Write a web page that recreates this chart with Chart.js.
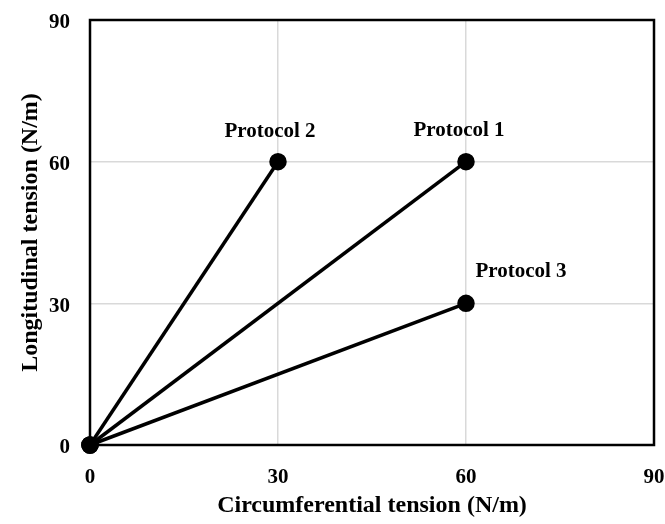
<!DOCTYPE html>
<html>
<head>
<meta charset="utf-8">
<script src="https://cdn.jsdelivr.net/npm/chart.js@4/dist/chart.umd.min.js"></script>
<style>
  html, body { margin: 0; padding: 0; background: #fff; }
  #wrap { width: 665px; height: 524px; }
</style>
</head>
<body>
<div id="wrap"><canvas id="c" width="665" height="524"></canvas></div>
<script>
// Loading paths: circumferential vs longitudinal tension (N/m)
const protocolNames = ['Protocol 1', 'Protocol 2', 'Protocol 3'];
const circumferential = [[0, 60], [0, 30], [0, 60]];
const longitudinal   = [[0, 60], [0, 60], [0, 30]];
const tickValues = [0, 30, 60, 90];

const FONT = '"Liberation Serif", "Times New Roman", serif';

// label offsets (px) relative to each path end point
const labelOffsets = [[-7, -31], [-8, -30], [55, -32]];

const datasets = protocolNames.map((name, i) => ({
  label: name,
  data: circumferential[i].map((x, k) => ({ x, y: longitudinal[i][k] })),
  borderColor: '#000',
  backgroundColor: '#000',
  borderWidth: 3.5,
  pointRadius: 7,
  pointHoverRadius: 7,
  showLine: true,
  clip: false
}));

const frame = {
  id: 'frame',
  beforeDatasetsDraw(chart) {
    const { ctx, chartArea: a } = chart;
    ctx.save();
    ctx.strokeStyle = '#000';
    ctx.lineWidth = 2.5;
    ctx.strokeRect(a.left, a.top, a.right - a.left, a.bottom - a.top);
    ctx.restore();
  }
};

const endLabels = {
  id: 'endLabels',
  afterDatasetsDraw(chart) {
    const { ctx } = chart;
    ctx.save();
    ctx.font = 'bold 21px ' + FONT;
    ctx.fillStyle = '#000';
    ctx.textAlign = 'center';
    ctx.textBaseline = 'middle';
    chart.data.datasets.forEach((ds, i) => {
      const pts = chart.getDatasetMeta(i).data;
      const p = pts[pts.length - 1];
      ctx.fillText(ds.label, p.x + labelOffsets[i][0], p.y + labelOffsets[i][1]);
    });
    ctx.restore();
  }
};

new Chart(document.getElementById('c'), {
  type: 'scatter',
  data: { datasets },
  options: {
    responsive: false,
    animation: false,
    layout: { padding: { top: 20, right: 11, left: 0, bottom: 0 } },
    plugins: { legend: { display: false }, tooltip: { enabled: false } },
    scales: {
      x: {
        type: 'linear',
        min: 0, max: 90,
        afterBuildTicks(s) { s.ticks = tickValues.map(v => ({ value: v })); },
        afterFit(s) { s.height = 79; s.paddingLeft = 0; s.paddingRight = 0; },
        grid: { color: '#d9d9d9', lineWidth: 1.5, drawTicks: false },
        border: { display: false },
        ticks: { color: '#000', font: { family: FONT, size: 21, weight: 'bold' }, padding: 20, maxRotation: 0 },
        title: { display: true, text: 'Circumferential tension (N/m)', color: '#000',
                 font: { family: FONT, size: 24, weight: 'bold' }, padding: { top: 5 } }
      },
      y: {
        type: 'linear',
        min: 0, max: 90,
        afterBuildTicks(s) { s.ticks = tickValues.map(v => ({ value: v })); },
        afterFit(s) { s.width = 90; s.paddingTop = 0; s.paddingBottom = 0; },
        grid: { color: '#d9d9d9', lineWidth: 1.5, drawTicks: false },
        border: { display: false },
        ticks: { color: '#000', font: { family: FONT, size: 21, weight: 'bold' }, padding: 20, labelOffset: 3 },
        title: { display: true, text: 'Longitudinal tension (N/m)', color: '#000',
                 font: { family: FONT, size: 24, weight: 'bold' }, padding: { bottom: 0, top: 16 } }
      }
    }
  },
  plugins: [frame, endLabels]
});
</script>
</body>
</html>
